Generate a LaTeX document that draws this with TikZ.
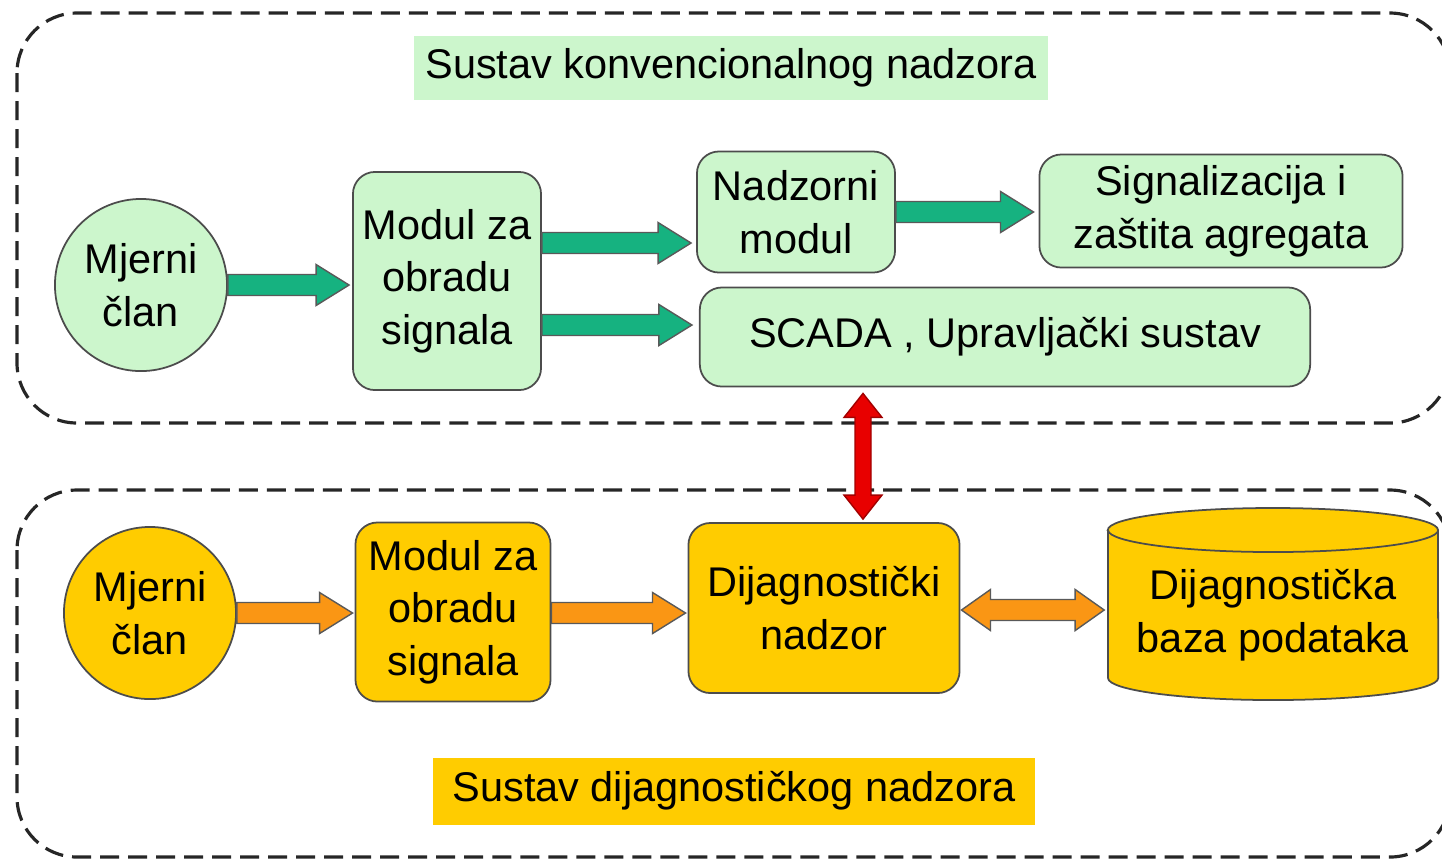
\documentclass[tikz,border=0pt]{standalone}
\usepackage{fontspec}
\setmainfont{Liberation Sans}
\usepackage{color}
\usepackage{tikz}
\usetikzlibrary{calc}
\definecolor{konvpozadina}{RGB}{204,246,204}
\definecolor{konvstrelica}{RGB}{22,178,128}
\definecolor{dijagpozadina}{RGB}{255,204,0}
\definecolor{dijagstrelica}{RGB}{250,150,20}
\definecolor{vezastrelica}{RGB}{232,0,0}

\newcommand{\tijelo}{0.105cm}
\newcommand{\glava}{0.205cm}
\newcommand{\vrh}{0.33cm}

\newcommand{\strelica}[3]{%
  \coordinate (s-a) at (#2);
  \coordinate (s-b) at (#3);
  \coordinate (s-t) at ($(s-b)!\vrh!(s-a)$);
  \draw[#1] ($(s-a)!\tijelo!90:(s-b)$) -- ($(s-t)!\tijelo!90:(s-b)$)
    -- ($(s-t)!\glava!90:(s-b)$) -- (s-b) -- ($(s-t)!\glava!-90:(s-b)$)
    -- ($(s-t)!\tijelo!-90:(s-b)$) -- ($(s-a)!\tijelo!-90:(s-b)$) -- cycle;
}
\newcommand{\dvostrelica}[3]{%
  \coordinate (s-a) at (#2);
  \coordinate (s-b) at (#3);
  \coordinate (s-t) at ($(s-a)!\vrh!(s-b)$);
  \coordinate (s-u) at ($(s-b)!\vrh!(s-a)$);
  \draw[#1] (s-a) -- ($(s-t)!\glava!90:(s-b)$) -- ($(s-t)!\tijelo!90:(s-b)$)
    -- ($(s-u)!\tijelo!90:(s-b)$) -- ($(s-u)!\glava!90:(s-b)$) -- (s-b)
    -- ($(s-u)!\glava!-90:(s-b)$) -- ($(s-u)!\tijelo!-90:(s-b)$)
    -- ($(s-t)!\tijelo!-90:(s-b)$) -- ($(s-t)!\glava!-90:(s-b)$) -- cycle;
}

\begin{document}
\begin{tikzpicture}[x=0.01cm,y=-0.01cm,
  tekst/.style={align=center,inner sep=0pt,font=\fontsize{11.8}{15}\selectfont},
  modul/.style={tekst,draw=black!70,line width=0.5pt,rounded corners=0.22cm},
  konvmodul/.style={modul,fill=konvpozadina},
  dijagmodul/.style={modul,fill=dijagpozadina},
  clan/.style={tekst,circle,draw=black!70,line width=0.5pt,minimum size=1.72cm},
  okvir/.style={draw=black!85,line width=0.9pt,dash pattern=on 0.19cm off 0.09cm,rounded corners=0.6cm},
  zelena/.style={fill=konvstrelica,draw=black!65,line width=0.4pt},
  narancasta/.style={fill=dijagstrelica,draw=black!65,line width=0.4pt},
  crvena/.style={fill=vezastrelica,draw=vezastrelica!70!black,line width=0.4pt}]
\useasboundingbox (0,0) rectangle (1442,859);

\draw[okvir] (17,13) rectangle (1450,423);
\draw[okvir] (17,490) rectangle (1450,857);

\node[tekst,fill=konvpozadina,minimum width=6.33cm,minimum height=0.63cm] (naslov1) at (731,68) {Sustav konvencionalnog nadzora};
\node[clan,fill=konvpozadina] (mjerni1) at (141,285) {Mjerni\\član};
\node[konvmodul,minimum width=1.88cm,minimum height=2.18cm] (modul1) at (447,281) {Modul za\\obradu\\signala};
\node[konvmodul,minimum width=1.98cm,minimum height=1.21cm] (nadzorni) at (796,212) {Nadzorni\\modul};
\node[konvmodul,minimum width=3.63cm,minimum height=1.13cm] (signal) at (1221,211) {Signalizacija i\\zaštita agregata};
\node[konvmodul,minimum width=6.10cm,minimum height=0.99cm] (scada) at (1005,337) {SCADA , Upravljački sustav};

\node[clan,fill=dijagpozadina] (mjerni2) at (150,613) {Mjerni\\član};
\node[dijagmodul,minimum width=1.95cm,minimum height=1.79cm] (modul2) at (453,612) {Modul za\\obradu\\signala};
\node[dijagmodul,minimum width=2.71cm,minimum height=1.70cm] (dijag) at (824,608) {Dijagnostički\\nadzor};
\filldraw[fill=dijagpozadina,draw=black!70,line width=0.5pt] (1108,530) -- (1108,678) arc (180:360:1.65cm and 0.22cm) -- (1438,530) arc (0:180:1.65cm and 0.22cm) -- cycle;
\draw[black!70,line width=0.5pt] (1108,530) arc (180:360:1.65cm and 0.22cm);
\node[tekst,minimum width=3.30cm,minimum height=1.70cm] (baza) at (1273,615) {Dijagnostička\\baza podataka};
\node[tekst,fill=dijagpozadina,minimum width=6.01cm,minimum height=0.67cm] (naslov2) at (734,791) {Sustav dijagnostičkog nadzora};

\strelica{zelena}{mjerni1.east}{$(mjerni1.east -| modul1.west)+(-3,0)$}
\strelica{zelena}{$(modul1.east)+(0,-38)$}{$(modul1.east -| nadzorni.west)+(-5,-38)$}
\strelica{zelena}{$(modul1.east)+(0,44)$}{$(modul1.east -| scada.west)+(-7,44)$}
\strelica{zelena}{nadzorni.east}{$(nadzorni.east -| signal.west)+(-5,0)$}

\strelica{narancasta}{mjerni2.east}{$(mjerni2.east -| modul2.west)+(-2,0)$}
\strelica{narancasta}{$(modul2.east)+(0,1)$}{$(modul2.east -| dijag.west)+(-2,1)$}
\begin{scope}
\renewcommand{\vrh}{0.29cm}
\dvostrelica{narancasta}{$(dijag.east)+(1,2)$}{$(dijag.east -| baza.west)+(-3,2)$}
\renewcommand{\tijelo}{0.08cm}
\renewcommand{\glava}{0.19cm}
\renewcommand{\vrh}{0.24cm}
\dvostrelica{crvena}{$(scada.south -| dijag.north)+(39,6)$}{$(dijag.north)+(39,-3)$}
\end{scope}
\end{tikzpicture}
\end{document}
